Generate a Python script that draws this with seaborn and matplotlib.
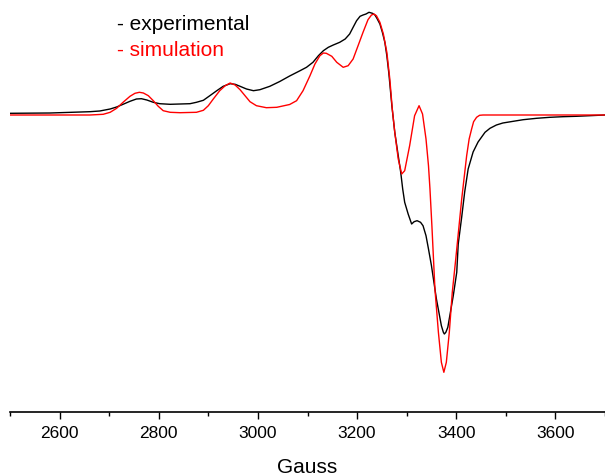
import matplotlib
matplotlib.use("Agg")
import matplotlib.pyplot as plt
import seaborn as sns
from matplotlib.ticker import MultipleLocator

# Experimental spectrum (Gauss, intensity arb. units)
exp_gauss = [2500, 2581, 2661, 2681, 2702, 2715, 2728, 2742, 2755, 2765, 2776, 2789,
             2802, 2823, 2843, 2863, 2876, 2890, 2903, 2917, 2930, 2944, 2954, 2964,
             2977, 2991, 3004, 3024, 3044, 3064, 3085, 3098, 3111, 3122, 3132, 3142,
             3152, 3165, 3176, 3185, 3192, 3199, 3206, 3212, 3218, 3224, 3231, 3236,
             3240, 3246, 3251, 3256, 3260, 3264, 3270, 3276, 3283, 3288, 3292, 3296,
             3303, 3310, 3315, 3321, 3328, 3333, 3339, 3344, 3350, 3356, 3360, 3365,
             3370, 3374, 3376, 3379, 3383, 3387, 3394, 3401, 3404, 3411, 3417, 3424,
             3434, 3444, 3458, 3468, 3481, 3494, 3515, 3535, 3562, 3589, 3615, 3642,
             3669, 3700]
exp_int = [1.7, 2, 3.3, 4, 6, 8, 10.7, 13.7, 16, 16.3, 15, 12.7,
           11.3, 10.7, 11, 11.3, 12.7, 14.7, 19.3, 24.3, 28.7, 31.3, 30.7, 28.7,
           26, 24.3, 25.3, 28.7, 33.5, 39, 44.3, 47.7, 52.7, 59.3, 64.3, 67.7,
           70, 72.7, 76, 81, 87.7, 94.3, 98.7, 100, 101, 102.7, 101.7, 100,
           96.7, 91, 82.7, 72.7, 59.3, 42, 10, -17.3, -40.7, -57.3, -74, -87.3,
           -99, -109, -106.7, -105.7, -107.3, -110.7, -120.7, -134, -150.7, -170.7, -184, -197.3,
           -210.7, -217.3, -219, -217.3, -212.3, -200.7, -180.7, -157.3, -129, -102, -77, -54,
           -37, -27, -17.3, -13.3, -10, -8, -6.3, -4.7, -3.3, -2.3, -1.7, -1.3,
           -0.7, 0]

# Simulated spectrum
sim_gauss = [2500, 2661, 2688, 2702, 2715, 2728, 2742, 2752, 2761, 2769, 2779, 2789,
             2799, 2809, 2823, 2843, 2876, 2890, 2900, 2910, 2923, 2934, 2944, 2954,
             2964, 2974, 2984, 2997, 3017, 3038, 3064, 3078, 3091, 3105, 3115, 3125,
             3132, 3138, 3149, 3159, 3172, 3182, 3192, 3202, 3212, 3222, 3229, 3234,
             3239, 3246, 3253, 3260, 3266, 3271, 3276, 3283, 3290, 3296, 3306, 3316,
             3325, 3332, 3339, 3344, 3347, 3351, 3357, 3364, 3370, 3375, 3380, 3386,
             3392, 3399, 3411, 3421, 3426, 3431, 3435, 3441, 3447, 3454, 3700]
sim_int = [0, 0, 0.7, 2.7, 6.7, 12.7, 18.7, 21.7, 22.7, 22, 19.3, 14.3,
           8.7, 4.3, 2.7, 2.3, 2.7, 4.7, 9.3, 16, 24.3, 29.3, 32, 30,
           25.3, 19.3, 13.3, 9.3, 7.3, 7.7, 10.5, 14.3, 24.3, 39.3, 51, 59.3,
           62, 61.7, 58.7, 52.7, 47.7, 49.3, 56, 69.3, 82.7, 95.3, 100, 101,
           99.3, 92.7, 81, 62.7, 36, 6, -17.3, -44, -59, -55.7, -30.7, -0.7,
           9.3, 1, -24, -50.7, -74, -112, -174, -217.3, -247.3, -257.3, -247.3, -217.3,
           -177.3, -144, -84, -40.7, -24, -14, -6.7, -2.3, -0.3, 0, 0]

x_ticks = [2600, 2800, 3000, 3200, 3400, 3600]
legend_labels = ["- experimental", "- simulation"]

sns.set_theme(style="white")
plt.rcParams['font.family'] = ['Liberation Sans', 'DejaVu Sans']

W, H = 605, 477
fig = plt.figure(figsize=(W / 100, H / 100), dpi=100)
ax_bottom_px = 412.5
ax = fig.add_axes([10 / W, (H - ax_bottom_px) / H, 595 / W, ax_bottom_px / H])

sns.lineplot(x=exp_gauss, y=exp_int, color="black", lw=1.0, ax=ax, estimator=None, sort=False)
sns.lineplot(x=sim_gauss, y=sim_int, color="#ff0000", lw=1.0, ax=ax, estimator=None, sort=False)

ax.set_xlim(2500, 3700)
ax.set_ylim(116 - ax_bottom_px, 116)
ax.set_xticks(x_ticks)
ax.xaxis.set_minor_locator(MultipleLocator(100))
ax.set_yticks([])
for s in ["top", "left", "right"]:
    ax.spines[s].set_visible(False)
ax.spines["bottom"].set_color("black")
ax.spines["bottom"].set_linewidth(1.2)
ax.tick_params(axis="x", which="major", direction="out", length=5, width=1.0,
               color="black", labelsize=12.5, pad=4.8, bottom=True)
ax.tick_params(axis="x", which="minor", direction="out", length=2.6, width=1.0,
               color="black", bottom=True)
ax.set_xlabel("Gauss", fontsize=15, labelpad=12, color="black")
for lab in ax.get_xticklabels():
    lab.set_color("black")

fig.text(117 / W, 1 - 25 / H, legend_labels[0], fontsize=15, color="black", va="center", ha="left")
fig.text(117 / W, 1 - 51 / H, legend_labels[1], fontsize=15, color="#ff0000", va="center", ha="left")

fig.savefig("out.png", dpi=100)
